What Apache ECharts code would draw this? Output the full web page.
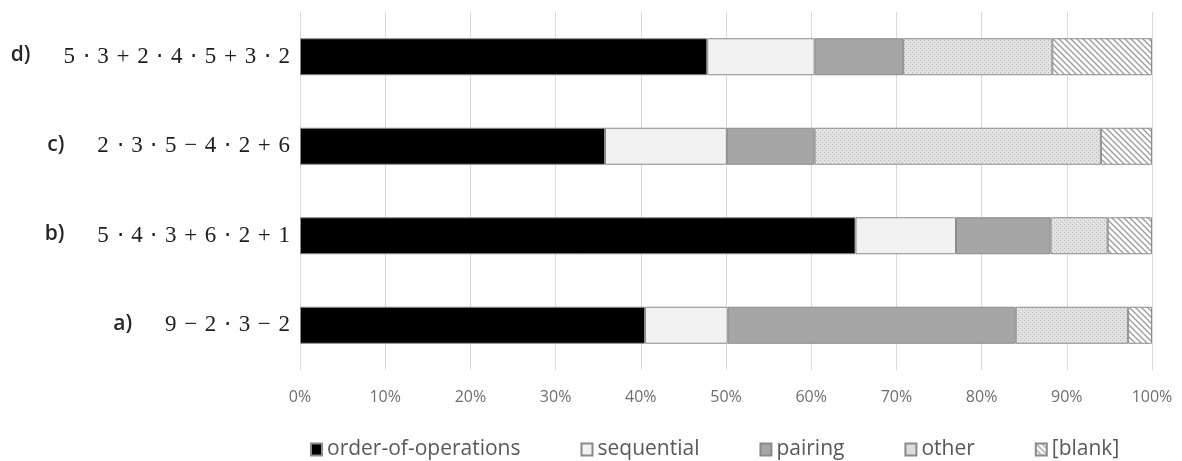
<!DOCTYPE html>
<html>
<head>
<meta charset="utf-8">
<script src="https://cdn.jsdelivr.net/npm/echarts@6/dist/echarts.min.js"></script>
<style>html,body{margin:0;padding:0;background:#fff}#c{width:1182px;height:461px}</style>
</head>
<body>
<div id="c"></div>
<script>
// ---- data (bottom to top) ----
const letters = ['a)', 'b)', 'c)', 'd)'];
const formulas = [
  '9 − 2 ⋅ 3 − 2',
  '5 ⋅ 4 ⋅ 3 + 6 ⋅ 2 + 1',
  '2 ⋅ 3 ⋅ 5 − 4 ⋅ 2 + 6',
  '5 ⋅ 3 + 2 ⋅ 4 ⋅ 5 + 3 ⋅ 2'
];
const seriesNames = ['order-of-operations', 'sequential', 'pairing', 'other', '[blank]'];
const orderOfOperations = [40.5, 65.2, 35.8, 47.8];
const sequential = [9.7, 11.8, 14.3, 12.6];
const pairing = [33.8, 11.1, 10.3, 10.4];
const other = [13.2, 6.7, 33.6, 17.5];
const blank = [2.8, 5.2, 6.0, 11.7];
const xTicks = [0, 10, 20, 30, 40, 50, 60, 70, 80, 90, 100];

// ---- patterns ----
function dotPattern() {
  const c = document.createElement('canvas');
  c.width = 4; c.height = 4;
  const g = c.getContext('2d');
  g.fillStyle = '#e2e2e2'; g.fillRect(0, 0, 4, 4);
  g.fillStyle = '#b8b8b8';
  g.fillRect(0, 0, 1, 1); g.fillRect(2, 2, 1, 1);
  return { image: c, repeat: 'repeat' };
}
function hatchPattern() {
  const s = 6;
  const c = document.createElement('canvas');
  c.width = s; c.height = s;
  const g = c.getContext('2d');
  g.fillStyle = '#ffffff'; g.fillRect(0, 0, s, s);
  g.strokeStyle = '#9a9a9a'; g.lineWidth = 1.3;
  g.beginPath();
  g.moveTo(-1, -1); g.lineTo(s + 1, s + 1);
  g.moveTo(-1, s - 1); g.lineTo(1, s + 1);
  g.moveTo(s - 1, -1); g.lineTo(s + 1, 1);
  g.stroke();
  return { image: c, repeat: 'repeat' };
}

const colors = ['#000000', '#f2f2f2', '#a6a6a6', dotPattern(), hatchPattern()];
const values = [orderOfOperations, sequential, pairing, other, blank];
const SP = '\u2004';
const fmt = s => s.split(' ').join(SP);

const chart = echarts.init(document.getElementById('c'), null, { renderer: 'canvas' });
chart.setOption({
  animation: false,
  backgroundColor: '#ffffff',
  grid: { left: 300, right: 30, top: 12, bottom: 91, containLabel: false },
  xAxis: {
    type: 'value', min: 0, max: 100, interval: 10,
    axisLine: { show: false }, axisTick: { show: false },
    splitLine: { lineStyle: { color: '#d9d9d9', width: 1 } },
    axisLabel: {
      formatter: v => v + '%', margin: 19,
      fontFamily: 'Open Sans', fontSize: 16, color: '#6e6e6e'
    }
  },
  yAxis: {
    type: 'category', data: letters,
    axisLine: { show: false }, axisTick: { show: false },
    axisLabel: {
      margin: 10,
      formatter: (v, i) => '{l|' + letters[i] + '}{f|' + fmt(formulas[i]) + '}',
      rich: {
        l: { fontFamily: 'Open Sans', fontWeight: 600, fontSize: 21, color: '#262626', padding: [0, 33, 3, 0] },
        f: { fontFamily: 'Liberation Serif', fontSize: 23, color: '#1e1e1e' }
      }
    }
  },
  legend: {
    top: 434, left: 305,
    itemWidth: 11, itemHeight: 12, itemGap: 60,
    textStyle: { fontFamily: 'Open Sans', fontSize: 21, color: '#595959' },
    data: seriesNames.map(n => ({ name: n, icon: 'rect' }))
  },
  series: seriesNames.map((n, k) => ({
    name: n, type: 'bar', stack: 'all', barWidth: 37,
    data: values[k],
    itemStyle: { color: colors[k], borderColor: '#8a8a8a', borderWidth: 1 },
    emphasis: { disabled: true }
  }))
});
</script>
</body>
</html>
